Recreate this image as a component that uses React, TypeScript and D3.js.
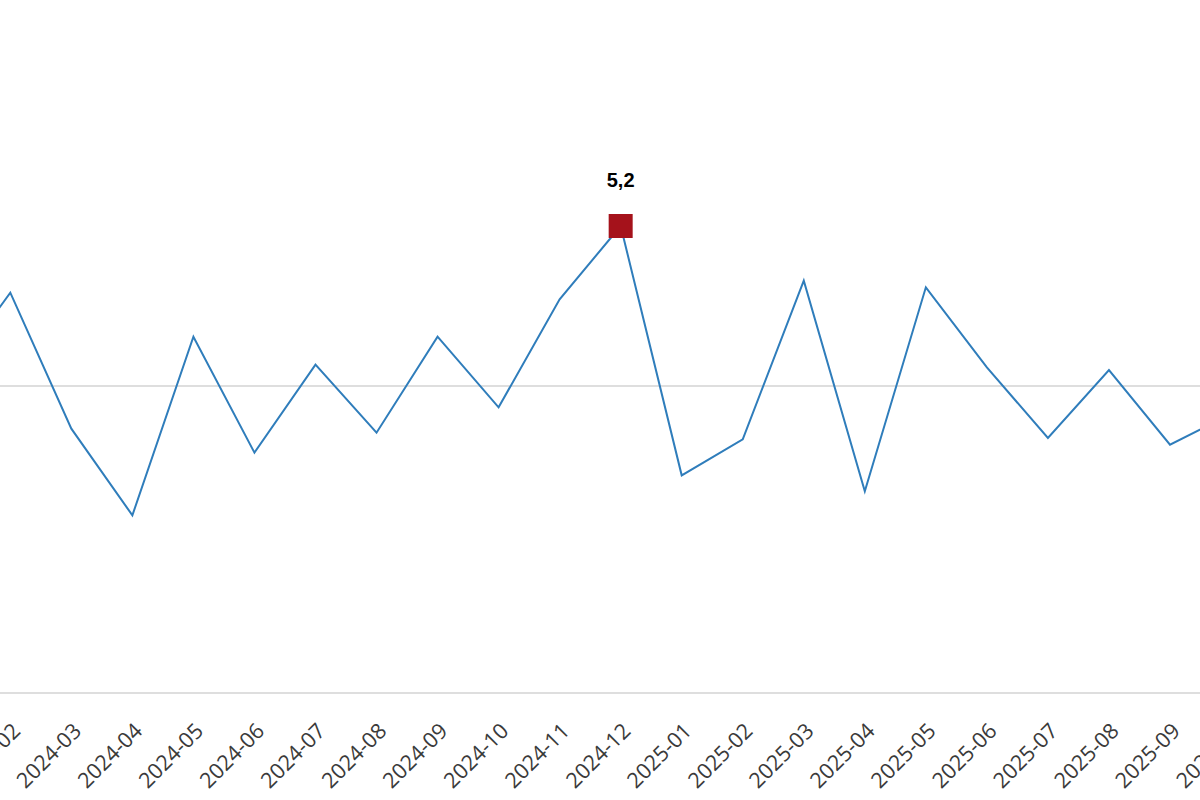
import React from "react";
import * as d3 from "d3";

const months = [
  "2024-01", "2024-02", "2024-03", "2024-04", "2024-05", "2024-06", "2024-07",
  "2024-08", "2024-09", "2024-10", "2024-11", "2024-12", "2025-01", "2025-02",
  "2025-03", "2025-04", "2025-05", "2025-06", "2025-07", "2025-08", "2025-09", "2025-10",
];
const values = [
  4.07, 4.7, 3.68, 3.03, 4.37, 3.5, 4.16, 3.65, 4.37, 3.84, 4.65, 5.2,
  3.33, 3.6, 4.79, 3.21, 4.74, 4.14, 3.61, 4.12, 3.56, 3.79,
];
const gridValues = [4];
const highlightIndex = 11;

const W = 1200;
const H = 800;

export default function App() {
  const x = d3.scaleLinear().domain([1, 20]).range([10.3, 1170]);
  const y = d3.scaleLinear().domain([4, 5.2]).range([386, 226]);
  const yBottom = 693;

  const line = d3
    .line<number>()
    .x((_, i) => x(i))
    .y((d) => y(d));

  const hx = x(highlightIndex);
  const hy = y(values[highlightIndex]);

  return (
    <svg
      width={W}
      height={H}
      style={{ position: "absolute", left: 0, top: 0, background: "#fff" }}
    >
      {gridValues.map((g) => (
        <line key={g} x1={0} x2={W} y1={y(g)} y2={y(g)} stroke="#dedede" strokeWidth={2} />
      ))}
      <line x1={0} x2={W} y1={yBottom} y2={yBottom} stroke="#dedede" strokeWidth={2} />
      <path d={line(values) || ""} fill="none" stroke="#2f7dbb" strokeWidth={2} />
      <rect x={hx - 12} y={hy - 12} width={24} height={24} fill="#a5121b" />
      <text
        x={hx}
        y={187}
        textAnchor="middle"
        fontFamily="'Liberation Sans', Arial, sans-serif"
        fontWeight="bold"
        fontSize={20}
        fill="#000"
      >
        {d3.format(".1f")(values[highlightIndex]).replace(".", ",")}
      </text>
      {months.map((m, i) => (
        <text
          key={m}
          transform={`translate(${x(i) + 6},${727}) rotate(-45)`}
          textAnchor="end"
          dy="0.35em"
          fontFamily="'Open Sans', sans-serif"
          fontSize={21.5}
          fill="#3a3a3a"
        >
          {m}
        </text>
      ))}
    </svg>
  );
}
